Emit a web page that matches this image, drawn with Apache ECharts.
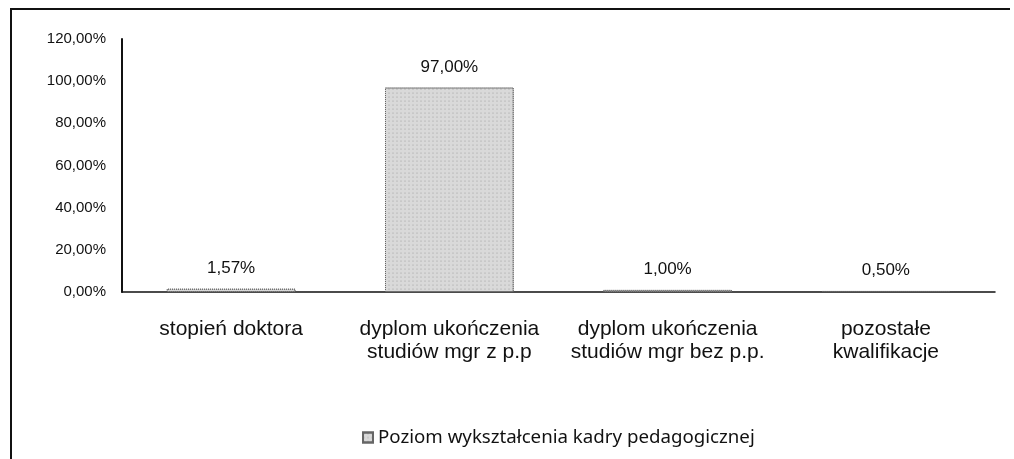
<!DOCTYPE html>
<html>
<head>
<meta charset="utf-8">
<script src="https://cdn.jsdelivr.net/npm/echarts@6/dist/echarts.min.js"></script>
<style>
  html, body { margin: 0; padding: 0; background: #fff; }
  #chart { width: 1014px; height: 459px; }
</style>
</head>
<body>
<div id="chart"></div>
<script>
// chart data
const categories = [
    'stopień doktora',
    'dyplom ukończenia\nstudiów mgr z p.p',
    'dyplom ukończenia\nstudiów mgr bez p.p.',
    'pozostałe\nkwalifikacje',
];
const values = [1.57, 97.0, 1.0, 0.5];
const seriesName = 'Poziom wykształcenia kadry pedagogicznej';
const yTicks = [0, 20, 40, 60, 80, 100, 120];

const pct = (v) => v.toFixed(2).replace('.', ',') + '%';
const axisFont = 'Liberation Sans, Arial, sans-serif';

const chart = echarts.init(document.getElementById('chart'));
chart.setOption({
    animation: false,
    backgroundColor: '#fff',
    graphic: [
        {
            type: 'polyline',
            shape: { points: [[11, 459], [11, 9], [1010, 9]] },
            style: { stroke: '#111', lineWidth: 2, fill: null },
        },
    ],
    legend: {
        data: [seriesName],
        left: 357,
        top: 423,
        icon: 'rect',
        itemWidth: 10,
        itemHeight: 10,
        itemGap: 6,
        textStyle: { fontFamily: 'Noto Sans, sans-serif', fontSize: 18.7, color: '#111' },
    },
    grid: { left: 122, right: 19, top: 39, bottom: 167 },
    xAxis: {
        type: 'category',
        data: categories,
        axisLine: { lineStyle: { color: '#111', width: 1.5 } },
        axisTick: { show: false },
        axisLabel: {
            interval: 0,
            margin: 26,
            fontFamily: axisFont,
            fontSize: 21,
            lineHeight: 23,
            color: '#111',
        },
    },
    yAxis: {
        type: 'value',
        min: yTicks[0],
        max: yTicks[yTicks.length - 1],
        interval: 20,
        axisLine: { show: true, lineStyle: { color: '#111', width: 2 } },
        axisTick: { show: false },
        splitLine: { show: false },
        axisLabel: {
            margin: 16,
            fontFamily: axisFont,
            fontSize: 15,
            color: '#111',
            formatter: pct,
        },
    },
    series: [
        {
            name: seriesName,
            type: 'bar',
            data: values,
            barWidth: '59%',
            itemStyle: {
                color: '#d9d9d9',
                borderColor: '#666',
                borderWidth: 1,
                borderType: 'dotted',
                decal: {
                    symbol: 'circle',
                    symbolSize: 0.6,
                    color: 'rgba(0,0,0,0.3)',
                    dashArrayX: [2, 2],
                    dashArrayY: [2, 2],
                },
            },
            label: {
                show: true,
                position: 'top',
                distance: 12,
                fontFamily: axisFont,
                fontSize: 17,
                color: '#111',
                formatter: (p) => pct(p.value),
            },
        },
    ],
});
</script>
</body>
</html>
